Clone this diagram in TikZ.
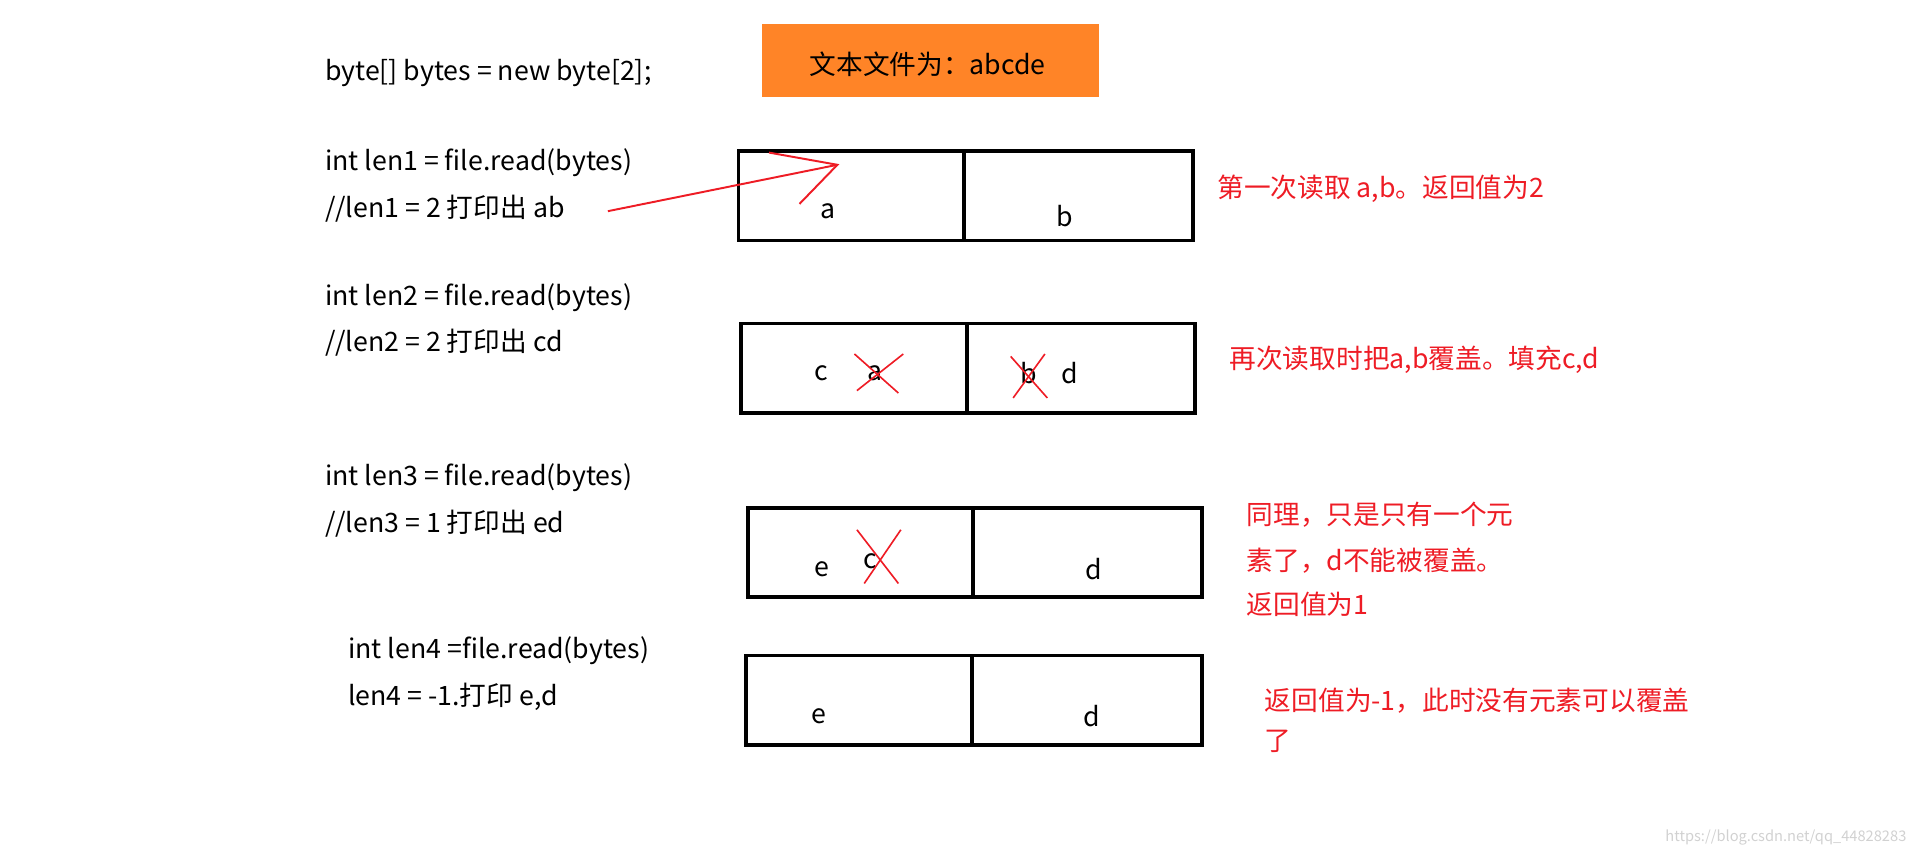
\documentclass[tikz,border=0pt]{standalone}
\usepackage{fontspec}
\setmainfont{Noto Sans CJK SC}
\definecolor{myred}{HTML}{EE1C25}
\definecolor{myorange}{HTML}{FF8427}
\begin{document}
\begin{tikzpicture}[x=0.75pt,y=-0.75pt,
  txt/.style={anchor=west,inner sep=0pt,font=\fontsize{16.4}{18}\selectfont},
  rtxt/.style={txt,text=myred},
  cell/.style={draw=black,line width=2.4pt},
  ltr/.style={inner sep=0pt,font=\fontsize{16.4}{18}\selectfont},
  crs/.style={draw=myred,line width=1pt}]
\useasboundingbox (0,0) rectangle (1568,700);
\node[fill=myorange,minimum width=207pt,minimum height=45pt,anchor=north west,inner sep=0pt] (title) at (624,19) {};
\node[ltr] (tt) at (760,53) {文本文件为：abcde};
\node[txt] (l0) at (266,60) {byte[] bytes = new byte[2];};
\node[txt] (l1) at (266,133) {int len1 = file.read(bytes)};
\node[txt] (l2) at (266,171) {//len1 = 2 打印出 ab};
\node[txt] (l3) at (266,244) {int len2 = file.read(bytes)};
\node[txt] (l4) at (266,281) {//len2 = 2 打印出 cd};
\node[txt] (l5) at (266,391) {int len3 = file.read(bytes)};
\node[txt] (l6) at (266,429) {//len3 = 1 打印出 ed};
\node[txt] (l7) at (285,533) {int len4 =file.read(bytes)};
\node[txt] (l8) at (285,571) {len4 = -1.打印 e,d};
% boxes
\draw[cell] (605,124) rectangle (977,197); \draw[cell] (790,124) -- (790,197);
\draw[cell] (607,265) rectangle (979,338); \draw[cell] (792,265) -- (792,338);
\draw[cell] (613,416) rectangle (985,489); \draw[cell] (797,416) -- (797,489);
\draw[cell] (611,537) rectangle (985,610); \draw[cell] (796,537) -- (796,610);
\node[ltr] (a1) at (678,173) {a}; \node[ltr] (b1) at (872,177) {b};
\node[ltr] (c2) at (673,306) {c}; \node[ltr] (a2) at (717,306) {a};
\node[ltr] (b2) at (843,306) {b}; \node[ltr] (d2) at (876,306) {d};
\node[ltr] (e3) at (673,466) {e}; \node[ltr] (c3) at (713,460) {c}; \node[ltr] (d3) at (896,466) {d};
\node[ltr] (e4) at (671,587) {e}; \node[ltr] (d4) at (894,587) {d};
% crosses
\draw[crs] (700,290) -- (736,322); \draw[crs] (702,320) -- (740,290);
\draw[crs] (828,292) -- (858,326); \draw[crs] (830,326) -- (856,290);
\draw[crs] (702,434) -- (736,478); \draw[crs] (708,478) -- (738,434);
% arrow
\coordinate (tip) at (686,135);
\draw[myred,line width=1.2pt] (498,173) -- (tip);
\draw[myred,line width=1.2pt] (630,125) -- (tip) -- (655,167);
% red notes
\node[rtxt] (n1) at (997,155) {第一次读取 a,b。返回值为2};
\node[rtxt] (n2) at (1007,295) {再次读取时把a,b覆盖。填充c,d};
\node[rtxt] (n3) at (1021,422) {同理，只是只有一个元};
\node[rtxt] (n4) at (1021,459) {素了，d不能被覆盖。};
\node[rtxt] (n5) at (1021,495) {返回值为1};
\node[rtxt] (n6) at (1036,574) {返回值为-1，此时没有元素可以覆盖};
\node[rtxt] (n7) at (1036,607) {了};
\node[anchor=east,inner sep=0pt,text=black!18,font=\fontsize{9}{10}\selectfont] (wm) at (1562,686) {https://blog.csdn.net/qq\_44828283};
\end{tikzpicture}
\end{document}
